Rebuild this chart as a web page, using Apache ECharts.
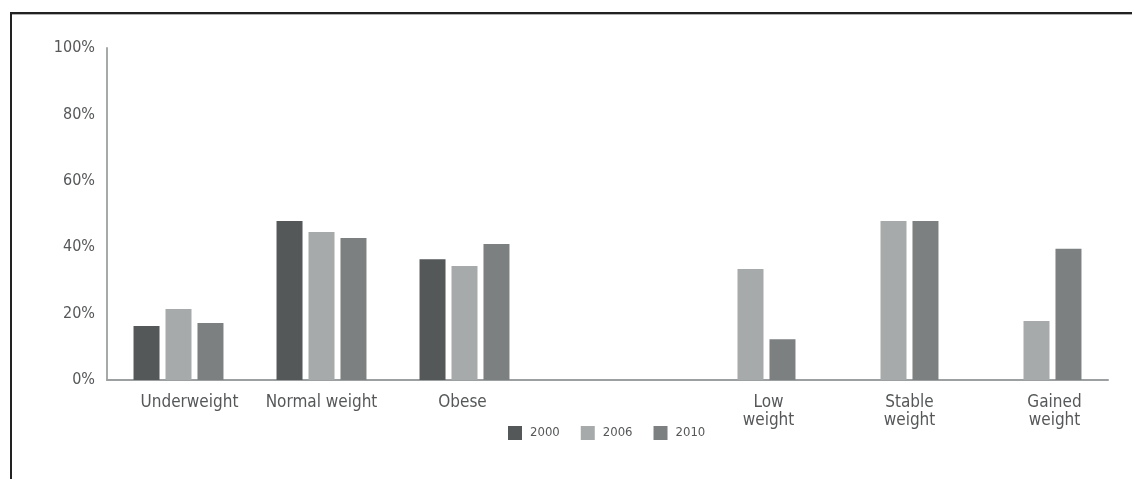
<!DOCTYPE html>
<html>
<head>
<meta charset="utf-8">
<script src="https://cdn.jsdelivr.net/npm/echarts@6/dist/echarts.min.js"></script>
<style>
  html, body { margin: 0; padding: 0; background: #fff; }
  #chart { width: 1132px; height: 479px; }
</style>
</head>
<body>
<div id="chart"></div>
<script>
// Weight categories; the fourth slot is an empty spacer between the two groups
const categories = ['Underweight', 'Normal weight', 'Obese', '', 'Low\nweight', 'Stable\nweight', 'Gained\nweight'];
// Horizontal nudge (px) for each category label
const labelShift = [11, 0, -2, 0, 18, 16, 18];

const years = ['2000', '2006', '2010'];
const values2000 = [16.3, 47.9, 36.4, null, null, null, null];
const values2006 = [21.4, 44.6, 34.3, null, 33.4, 47.9, 17.8];
const values2010 = [17.2, 42.8, 41.0, null, 12.3, 47.9, 39.5];

const yTicks = { min: 0, max: 100, interval: 20 };
const colors = ['#545859', '#a7aaaa', '#7d8080'];

const FONT = "'DejaVu Sans Condensed', 'Liberation Sans Narrow', sans-serif";
const TEXT = '#555759';

const chart = echarts.init(document.getElementById('chart'), null, { renderer: 'canvas' });

const seriesValues = [values2000, values2006, values2010];

chart.setOption({
  animation: false,
  backgroundColor: '#ffffff',
  color: colors,
  textStyle: { fontFamily: FONT },
  grid: { left: 107, right: 24, top: 48, bottom: 99, containLabel: false },
  legend: {
    data: years,
    top: 426,
    left: 508,
    padding: 0,
    itemWidth: 14,
    itemHeight: 14,
    itemGap: 21,
    icon: 'rect',
    textStyle: { fontFamily: FONT, fontSize: 13, color: TEXT, padding: [0, 0, 0, 3] }
  },
  xAxis: {
    type: 'category',
    data: categories.map((c, i) => ({
      value: c,
      textStyle: { padding: [0, 0, 0, labelShift[i] * 2] }
    })),
    axisLine: { show: true, lineStyle: { color: '#9da0a0', width: 2 } },
    axisTick: { show: false },
    axisLabel: {
      interval: 0,
      margin: 14,
      fontFamily: FONT,
      fontSize: 17,
      lineHeight: 18,
      color: TEXT
    },
    splitLine: { show: false }
  },
  yAxis: {
    type: 'value',
    min: yTicks.min,
    max: yTicks.max,
    interval: yTicks.interval,
    axisLine: { show: true, lineStyle: { color: '#a6a9a9', width: 2 } },
    axisTick: { show: false },
    splitLine: { show: false },
    axisLabel: {
      formatter: '{value}%',
      margin: 12,
      fontFamily: FONT,
      fontSize: 16,
      color: TEXT
    }
  },
  series: years.map((y, i) => ({
    name: y,
    type: 'bar',
    data: seriesValues[i],
    barWidth: 26,
    barGap: '23%',
    itemStyle: { color: colors[i] }
  })),
  graphic: [
    {
      type: 'polyline',
      shape: { points: [[11, 479], [11, 13], [1132, 13]] },
      style: { stroke: '#222222', lineWidth: 2, fill: null },
      silent: true
    },
    {
      type: 'line',
      shape: { x1: 12, y1: 14.5, x2: 1132, y2: 14.5 },
      style: { stroke: '#b0b0b0', lineWidth: 1 },
      silent: true
    }
  ]
});
</script>
</body>
</html>
